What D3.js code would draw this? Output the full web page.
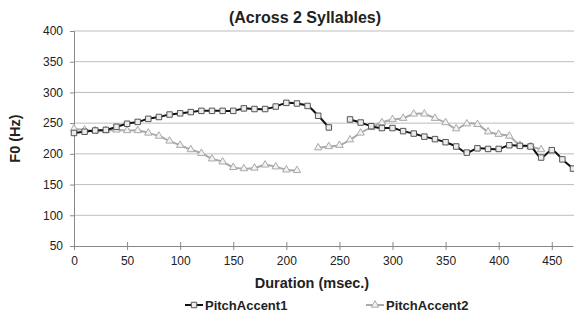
<!DOCTYPE html>
<html>
<head>
<meta charset="utf-8">
<script src="https://cdn.jsdelivr.net/npm/d3@7"></script>
<style>
  html, body { margin: 0; padding: 0; background: #fff; }
  svg { display: block; font-family: "Liberation Sans", Arial, sans-serif; }
</style>
</head>
<body>
<div id="chart"></div>
<script>
/* F0 contours of two pitch accents across 2 syllables */

const durations = [0, 10, 20, 30, 40, 50, 60, 70, 80, 90, 100, 110, 120, 130, 140, 150,
  160, 170, 180, 190, 200, 210, 220, 230, 240, 250, 260, 270, 280, 290, 300, 310,
  320, 330, 340, 350, 360, 370, 380, 390, 400, 410, 420, 430, 440, 450, 460, 470];

const pitchAccent1 = [234, 236, 238, 239, 244, 249, 252, 257, 260, 264, 266, 268, 270, 270, 270, 270,
  274, 273, 273, 277, 283, 282, 278, 262, 243, null, 256, 251, 245, 242, 242, 237,
  233, 228, 224, 219, 212, 202, 209, 208, 208, 214, 213, 212, 194, 206, 191, 176];

const pitchAccent2 = [241, 239, 238, 238, 239, 238, 238, 234, 229, 221, 214, 207, 201, 192, 187, 178,
  176, 177, 182, 179, 174, 173, null, 210, 212, 214, 223, 234, 243, 251, 256, 258,
  265, 265, 258, 251, 241, 249, 248, 236, 232, 229, 214, 212, 207, null, null, null];

const seriesNames = ["PitchAccent1", "PitchAccent2"];
const yTicks = [50, 100, 150, 200, 250, 300, 350, 400];
const xTicks = [0, 50, 100, 150, 200, 250, 300, 350, 400, 450];

const width = 574, height = 315;
const margin = { top: 31, right: 1, bottom: 69, left: 74 };

const svg = d3.select("#chart").append("svg")
  .attr("width", width)
  .attr("height", height);

const x = d3.scaleLinear().domain([0, 470]).range([margin.left, width - margin.right]);
const y = d3.scaleLinear().domain([50, 400]).range([height - margin.bottom, margin.top]);

// gridlines
svg.append("g")
  .selectAll("line")
  .data(yTicks.slice(1))
  .join("line")
  .attr("x1", margin.left).attr("x2", width)
  .attr("y1", d => y(d)).attr("y2", d => y(d))
  .attr("stroke", "#bdbdbd")
  .attr("stroke-width", 1);

// y axis
const yAxis = svg.append("g")
  .attr("transform", `translate(${margin.left},0)`)
  .call(d3.axisLeft(y).tickValues(yTicks).tickSize(4).tickPadding(7));
yAxis.select(".domain").attr("stroke", "#888");
yAxis.selectAll(".tick line").attr("stroke", "#888");
yAxis.selectAll(".tick text").attr("font-size", 12).attr("fill", "#222")
  .attr("font-family", "Liberation Sans, Arial, sans-serif");

// x axis
const xAxis = svg.append("g")
  .attr("transform", `translate(0,${y(50)})`)
  .call(d3.axisBottom(x).tickValues(xTicks).tickSize(4).tickPadding(6).tickSizeOuter(0));
xAxis.select(".domain").attr("stroke", "#888");
xAxis.selectAll(".tick line").attr("stroke", "#888").attr("y1", -4);
xAxis.selectAll(".tick text").attr("font-size", 12).attr("fill", "#222")
  .attr("font-family", "Liberation Sans, Arial, sans-serif");

// series
const rows = durations.map((d, i) => ({ t: d, a: pitchAccent1[i], b: pitchAccent2[i] }));

const styles = [
  { key: "a", line: "#111", lineW: 2, mark: "#555", fill: "#ececec", sym: d3.symbolSquare, size: 30 },
  { key: "b", line: "#aaa", lineW: 2, mark: "#aaa", fill: "#f2f2f2", sym: d3.symbolTriangle, size: 24 }
];

// draw gray first so black is on top
[styles[1], styles[0]].forEach(s => {
  const line = d3.line()
    .defined(d => d[s.key] != null)
    .x(d => x(d.t))
    .y(d => y(d[s.key]))
    .curve(d3.curveCatmullRom.alpha(0.5));

  svg.append("path")
    .datum(rows)
    .attr("d", line)
    .attr("fill", "none")
    .attr("stroke", s.line)
    .attr("stroke-width", s.lineW);

  svg.append("g")
    .selectAll("path")
    .data(rows.filter(d => d[s.key] != null))
    .join("path")
    .attr("transform", d => `translate(${x(d.t)},${y(d[s.key])})`)
    .attr("d", d3.symbol().type(s.sym).size(s.size))
    .attr("fill", s.fill)
    .attr("stroke", s.mark)
    .attr("stroke-width", 1);
});

// titles
svg.append("text")
  .attr("x", 305).attr("y", 23)
  .attr("text-anchor", "middle")
  .attr("font-size", 16).attr("font-weight", "bold").attr("fill", "#222")
  .text("(Across 2 Syllables)");

svg.append("text")
  .attr("transform", `translate(20,${(y(400) + y(50)) / 2}) rotate(-90)`)
  .attr("text-anchor", "middle")
  .attr("font-size", 14.5).attr("font-weight", "bold").attr("fill", "#222")
  .text("F0 (Hz)");

svg.append("text")
  .attr("x", 312).attr("y", 288)
  .attr("text-anchor", "middle")
  .attr("font-size", 14.5).attr("font-weight", "bold").attr("fill", "#222")
  .text("Duration (msec.)");

// legend
const legendX = [185, 366];
seriesNames.forEach((name, i) => {
  const s = styles[i];
  const g = svg.append("g").attr("transform", `translate(${legendX[i]},305)`);
  g.append("line")
    .attr("x1", 0).attr("x2", 18)
    .attr("stroke", s.line).attr("stroke-width", 2);
  g.append("path")
    .attr("transform", "translate(9,0)")
    .attr("d", d3.symbol().type(s.sym).size(s.size))
    .attr("fill", s.fill).attr("stroke", s.mark);
  g.append("text")
    .attr("x", 20).attr("y", 4.5)
    .attr("font-size", 13).attr("font-weight", "bold").attr("fill", "#222")
    .text(name);
});
</script>
</body>
</html>
